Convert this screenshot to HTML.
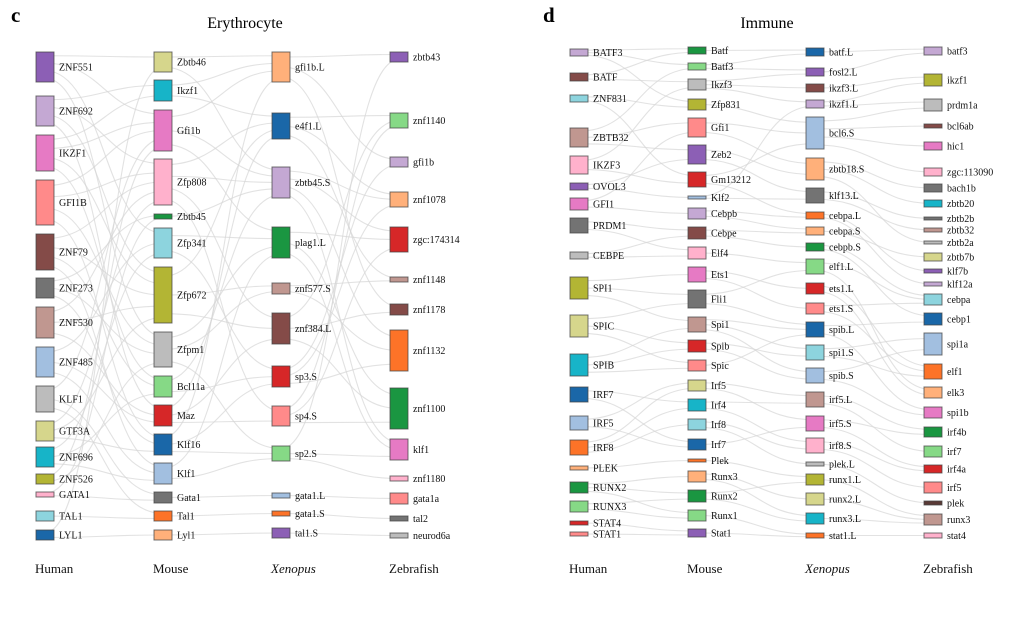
<!DOCTYPE html>
<html><head><meta charset="utf-8"><style>
html,body{margin:0;padding:0;background:#fff;}
svg{display:block;font-family:"Liberation Serif",serif;}
</style></head><body>
<svg id="chart" width="1010" height="630" viewBox="0 0 1010 630">
<rect width="1010" height="630" fill="#fff"/>
<text x="11" y="22" font-size="21" font-weight="bold">c</text>
<text x="245" y="28" font-size="16" text-anchor="middle">Erythrocyte</text>
<text x="543" y="22" font-size="21" font-weight="bold">d</text>
<text x="767" y="28" font-size="16" text-anchor="middle">Immune</text>
<g id="layer"></g>
</svg>
<script>
// ---- Erythrocyte panel data ----
const eryHumanNames=["ZNF551","ZNF692","IKZF1","GFI1B","ZNF79","ZNF273","ZNF530","ZNF485","KLF1","GTF3A","ZNF696","ZNF526","GATA1","TAL1","LYL1"];
const eryHumanTop=[52,96,135,180,234,278,307,347,386,421,447,474,492,511,530];
const eryHumanBot=[82,126,171,225,270,298,338,377,412,441,467,484,497,521,540];
const eryHumanColors=["#8c5fb5","#c4a8d3","#e67ac4","#ff8a8a","#844b48","#737373","#c09790","#a2bfe0","#bcbcbc","#d6d68c","#17b4c8","#b3b534","#ffb1cc","#8dd4de","#1a67a8"];
const eryMouseNames=["Zbtb46","Ikzf1","Gfi1b","Zfp808","Zbtb45","Zfp341","Zfp672","Zfpm1","Bcl11a","Maz","Klf16","Klf1","Gata1","Tal1","Lyl1"];
const eryMouseTop=[52,80,110,159,214,228,267,332,376,405,434,463,492,511,530];
const eryMouseBot=[72,101,151,205,219,258,323,367,397,426,455,484,503,521,540];
const eryMouseColors=["#d6d68c","#17b4c8","#e67ac4","#ffb1cc","#1a9641","#8dd4de","#b3b534","#bcbcbc","#86d986","#d62728","#1a67a8","#a2bfe0","#737373","#fd7328","#ffb07a"];
const eryXenNames=["gfi1b.L","e4f1.L","zbtb45.S","plag1.L","znf577.S","znf384.L","sp3.S","sp4.S","sp2.S","gata1.L","gata1.S","tal1.S"];
const eryXenTop=[52,113,167,227,283,313,366,406,446,493,511,528];
const eryXenBot=[82,139,198,258,294,344,387,426,461,498,516,538];
const eryXenColors=["#ffb07a","#1a67a8","#c4a8d3","#1a9641","#c09790","#844b48","#d62728","#ff8a8a","#86d986","#a2bfe0","#fd7328","#8c5fb5"];
const eryZfNames=["zbtb43","znf1140","gfi1b","znf1078","zgc:174314","znf1148","znf1178","znf1132","znf1100","klf1","znf1180","gata1a","tal2","neurod6a"];
const eryZfTop=[52,113,157,192,227,277,304,330,388,439,476,493,516,533];
const eryZfBot=[62,128,167,207,252,282,315,371,429,460,481,504,521,538];
const eryZfColors=["#8c5fb5","#86d986","#c4a8d3","#ffb07a","#d62728","#c09790","#844b48","#fd7328","#1a9641","#e67ac4","#ffb1cc","#ff8a8a","#737373","#bcbcbc"];
const eryLinksHM=[[0,0],[0,2],[0,5],[0,7],[1,1],[1,3],[1,9],[2,1],[2,2],[2,6],[3,2],[3,3],[3,7],[3,10],[4,3],[4,6],[4,8],[5,4],[5,7],[6,3],[6,9],[7,5],[7,11],[8,13],[8,12],[8,2],[9,6],[9,10],[10,8],[10,11],[11,7],[12,12],[12,4],[13,13],[14,14],[14,0],[1,6],[2,8],[4,11],[5,10],[6,6],[7,9],[9,3],[10,5],[11,2]];
const eryLinksMX=[[0,0],[0,2],[1,0],[1,1],[2,0],[2,2],[2,3],[3,2],[3,5],[3,1],[4,2],[5,3],[5,6],[6,4],[6,5],[7,8],[7,3],[8,6],[9,5],[9,7],[10,8],[10,6],[11,8],[11,3],[12,9],[13,10],[14,11],[6,1],[3,7],[7,4],[8,2],[9,1],[10,0]];
const eryLinksXZ=[[0,0],[0,6],[0,2],[1,1],[1,3],[2,3],[2,7],[2,4],[3,4],[3,8],[3,9],[4,5],[4,7],[5,6],[5,8],[5,1],[6,7],[6,2],[7,8],[7,4],[8,9],[8,10],[9,11],[10,12],[11,13],[1,5],[6,3],[7,1],[8,0],[2,9]];

// ---- Immune panel data ----
const immHumanNames=["BATF3","BATF","ZNF831","ZBTB32","IKZF3","OVOL3","GFI1","PRDM1","CEBPE","SPI1","SPIC","SPIB","IRF7","IRF5","IRF8","PLEK","RUNX2","RUNX3","STAT4","STAT1"];
const immHumanTop=[49,73,95,128,156,183,198,218,252,277,315,354,387,416,440,466,482,501,521,532];
const immHumanBot=[56,81,102,147,174,190,210,233,259,299,337,376,402,430,455,470,493,512,525,536];
const immHumanColors=["#c4a8d3","#844b48","#8dd4de","#c09790","#ffb1cc","#8c5fb5","#e67ac4","#737373","#bcbcbc","#b3b534","#d6d68c","#17b4c8","#1a67a8","#a2bfe0","#fd7328","#ffb07a","#1a9641","#86d986","#d62728","#ff8a8a"];
const immMouseNames=["Batf","Batf3","Ikzf3","Zfp831","Gfi1","Zeb2","Gm13212","Klf2","Cebpb","Cebpe","Elf4","Ets1","Fli1","Spi1","Spib","Spic","Irf5","Irf4","Irf8","Irf7","Plek","Runx3","Runx2","Runx1","Stat1"];
const immMouseTop=[47,63,79,99,118,145,172,196,208,227,247,267,290,317,340,360,380,399,419,439,459,471,490,510,529];
const immMouseBot=[54,70,90,110,137,164,187,199,219,239,259,282,308,332,352,371,391,411,430,450,462,482,502,521,537];
const immMouseColors=["#1a9641","#86d986","#bcbcbc","#b3b534","#ff8a8a","#8c5fb5","#d62728","#a2bfe0","#c4a8d3","#844b48","#ffb1cc","#e67ac4","#737373","#c09790","#d62728","#ff8a8a","#d6d68c","#17b4c8","#8dd4de","#1a67a8","#fd7328","#ffb07a","#1a9641","#86d986","#8c5fb5"];
const immXenNames=["batf.L","fosl2.L","ikzf3.L","ikzf1.L","bcl6.S","zbtb18.S","klf13.L","cebpa.L","cebpa.S","cebpb.S","elf1.L","ets1.L","ets1.S","spib.L","spi1.S","spib.S","irf5.L","irf5.S","irf8.S","plek.L","runx1.L","runx2.L","runx3.L","stat1.L"];
const immXenTop=[48,68,84,100,117,158,188,212,227,243,259,283,303,322,345,368,392,416,438,462,474,493,513,533];
const immXenBot=[56,76,92,108,149,180,203,219,235,251,274,294,314,337,360,383,407,431,453,466,485,505,524,538];
const immXenColors=["#1a67a8","#8c5fb5","#844b48","#c4a8d3","#a2bfe0","#ffb07a","#737373","#fd7328","#ffb07a","#1a9641","#86d986","#d62728","#ff8a8a","#1a67a8","#8dd4de","#a2bfe0","#c09790","#e67ac4","#ffb1cc","#bcbcbc","#b3b534","#d6d68c","#17b4c8","#fd7328"];
const immZfNames=["batf3","ikzf1","prdm1a","bcl6ab","hic1","zgc:113090","bach1b","zbtb20","zbtb2b","zbtb32","zbtb2a","zbtb7b","klf7b","klf12a","cebpa","cebp1","spi1a","elf1","elk3","spi1b","irf4b","irf7","irf4a","irf5","plek","runx3","stat4"];
const immZfTop=[47,74,99,124,142,168,184,200,217,228,241,253,269,282,294,313,333,364,387,407,427,446,465,482,501,514,533];
const immZfBot=[55,86,111,128,150,176,192,207,220,232,244,261,273,286,305,325,355,379,398,418,437,457,473,493,505,525,538];
const immZfColors=["#c4a8d3","#b3b534","#bcbcbc","#844b48","#e67ac4","#ffb1cc","#737373","#17b4c8","#737373","#c09790","#bcbcbc","#d6d68c","#8c5fb5","#c4a8d3","#8dd4de","#1a67a8","#a2bfe0","#fd7328","#ffb07a","#e67ac4","#1a9641","#86d986","#d62728","#ff8a8a","#5a3a36","#c09790","#ffb1cc"];
const immLinksHM=[[0,0],[0,1],[0,3],[1,0],[1,2],[2,3],[2,6],[3,4],[3,5],[4,2],[4,6],[5,5],[5,7],[6,4],[6,8],[7,10],[7,9],[8,10],[8,9],[9,12],[9,13],[10,14],[10,15],[11,15],[11,13],[12,19],[12,17],[13,16],[14,17],[14,18],[15,20],[16,21],[16,22],[17,23],[18,24],[19,24],[9,11],[3,1],[10,12],[11,14],[13,19],[14,16],[16,23],[17,22]];
const immLinksMX=[[0,0],[1,0],[1,1],[2,2],[2,3],[3,4],[4,4],[4,5],[5,5],[5,6],[6,4],[7,6],[8,7],[8,8],[9,9],[9,8],[10,10],[11,11],[11,12],[12,10],[12,13],[13,13],[13,15],[14,14],[14,15],[15,13],[16,16],[16,17],[17,18],[18,18],[18,19],[19,17],[20,20],[21,21],[22,22],[23,23],[24,23],[2,1],[6,7],[7,3],[13,14],[17,16],[21,22],[22,20]];
const immLinksXZ=[[0,0],[1,0],[2,1],[3,1],[3,2],[4,3],[4,4],[4,5],[5,6],[5,7],[6,8],[6,9],[7,12],[7,13],[8,11],[9,14],[9,15],[10,18],[11,18],[11,17],[12,17],[13,15],[14,16],[14,17],[15,16],[16,21],[16,20],[17,20],[17,22],[18,22],[19,24],[20,25],[21,25],[22,25],[23,26],[5,10],[4,2],[13,19],[15,19],[18,23],[12,14],[10,14]];

const speciesNames=["Human","Mouse","Xenopus","Zebrafish"];
const NS="http://www.w3.org/2000/svg";
const layer=document.getElementById('layer');
const linkLayer=document.createElementNS(NS,'g');
const nodeLayer=document.createElementNS(NS,'g');
layer.appendChild(linkLayer);layer.appendChild(nodeLayer);
const BW=18;

function mk(tag,attrs,parent){const e=document.createElementNS(NS,tag);for(const k in attrs)e.setAttribute(k,attrs[k]);parent.appendChild(e);return e;}

function panel(prefix,xs,cols,links){
  cols.forEach((c,ci)=>{
    const x=xs[ci];
    c.names.forEach((n,i)=>{
      const h=Math.max(3,c.bot[i]-c.top[i]);
      const r=mk('rect',{x:x,y:c.top[i],width:BW,height:h,fill:c.colors[i],stroke:'#444','stroke-width':1,'stroke-opacity':0.75},nodeLayer);
      
      
      const t=mk('text',{x:x+BW+5,y:(c.top[i]+c.bot[i])/2+3.5,'font-size':10,fill:'#111'},nodeLayer);
      t.textContent=n;
      
      
    });
    const lab=mk('text',{x:x-1,y:573,'font-size':13,fill:'#111','font-style':ci===2?'italic':'normal'},nodeLayer);
    lab.textContent=speciesNames[ci];
    
    
  });
  links.forEach((L,gi)=>{
    const s=cols[gi],t=cols[gi+1];
    const outCnt=s.names.map(()=>0),inCnt=t.names.map(()=>0);
    L.forEach(p=>{outCnt[p[0]]++;inCnt[p[1]]++;});
    const outIdx=s.names.map(()=>0),inIdx=t.names.map(()=>0);
    const sorted=L.slice().sort((a,b)=>a[0]-b[0]||a[1]-b[1]);
    const byT=L.slice().sort((a,b)=>a[1]-b[1]||a[0]-b[0]);
    const tPos=new Map();
    byT.forEach(p=>{const j=p[1];const k=inIdx[j]++;const y=t.top[j]+(t.bot[j]-t.top[j])*(k+0.5)/inCnt[j];tPos.set(p.join(','),y);});
    sorted.forEach(p=>{
      const i=p[0];const k=outIdx[i]++;
      const y1=s.top[i]+(s.bot[i]-s.top[i])*(k+0.5)/outCnt[i];
      const y2=tPos.get(p.join(','));
      const x1=xs[gi]+BW/2,x2=xs[gi+1]+BW/2,mx=(x1+x2)/2;
      const path=mk('path',{d:`M${x1},${y1} C${mx},${y1} ${mx},${y2} ${x2},${y2}`,fill:'none',stroke:'#d6d6d6','stroke-width':1.1,'stroke-opacity':0.7},linkLayer);
      
      
    });
  });
}

panel('erythrocyte',[36,154,272,390],[
 {names:eryHumanNames,top:eryHumanTop,bot:eryHumanBot,colors:eryHumanColors},
 {names:eryMouseNames,top:eryMouseTop,bot:eryMouseBot,colors:eryMouseColors},
 {names:eryXenNames,top:eryXenTop,bot:eryXenBot,colors:eryXenColors},
 {names:eryZfNames,top:eryZfTop,bot:eryZfBot,colors:eryZfColors}],
 [eryLinksHM,eryLinksMX,eryLinksXZ]);
panel('immune',[570,688,806,924],[
 {names:immHumanNames,top:immHumanTop,bot:immHumanBot,colors:immHumanColors},
 {names:immMouseNames,top:immMouseTop,bot:immMouseBot,colors:immMouseColors},
 {names:immXenNames,top:immXenTop,bot:immXenBot,colors:immXenColors},
 {names:immZfNames,top:immZfTop,bot:immZfBot,colors:immZfColors}],
 [immLinksHM,immLinksMX,immLinksXZ]);
</script>
</body></html>
